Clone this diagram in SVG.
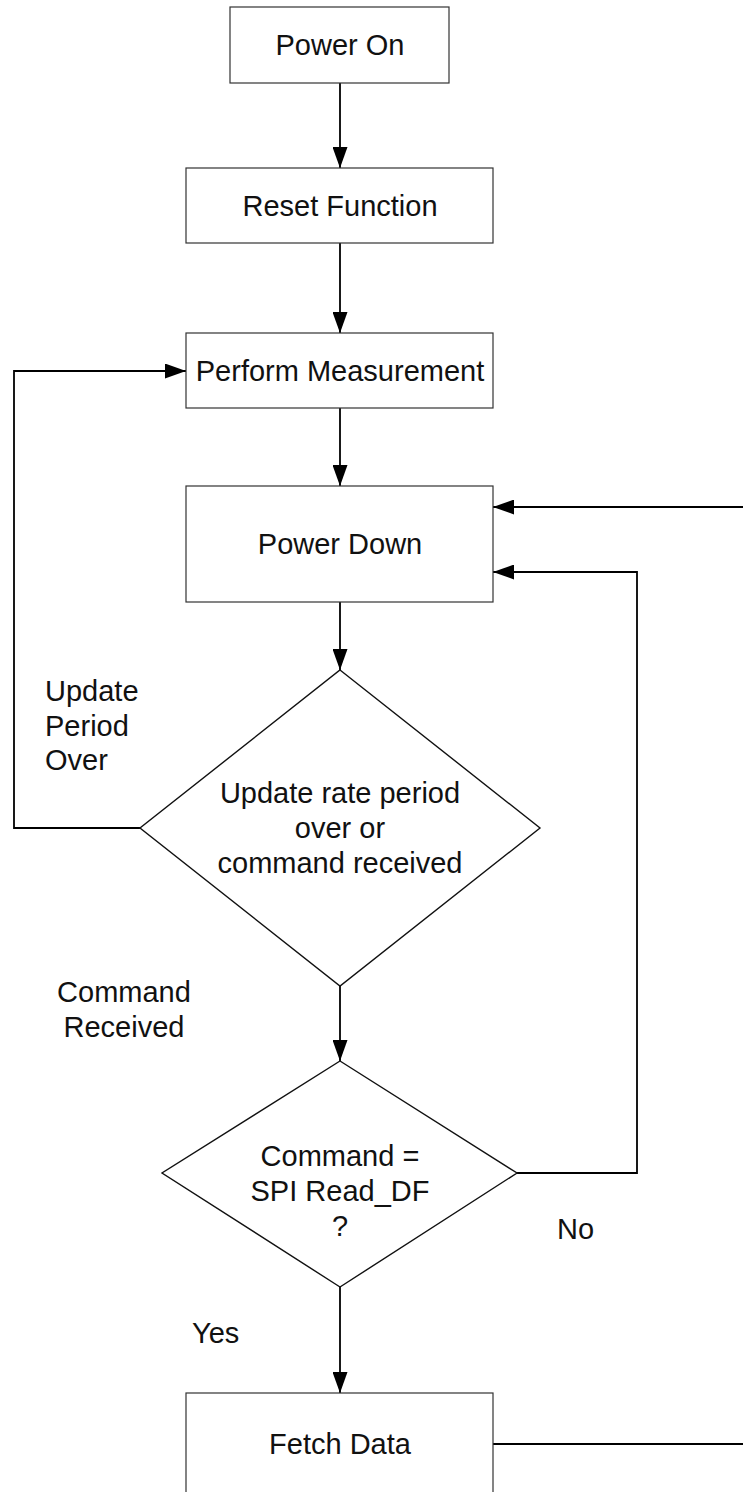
<svg xmlns="http://www.w3.org/2000/svg" width="743" height="1492" viewBox="0 0 743 1492">
  <style>
    .box { fill: #ffffff; stroke: #333333; stroke-width: 1.2; }
    .dia { fill: #ffffff; stroke: #111111; stroke-width: 1.4; }
    .conn { fill: none; stroke: #000000; stroke-width: 1.8; }
    text { font-family: "Liberation Sans", Arial, sans-serif; font-size: 29px; fill: #111111; }
    .c { text-anchor: middle; }
  </style>
  <defs>
    <marker id="arrow" markerWidth="22" markerHeight="15" refX="21" refY="7.5" orient="auto" markerUnits="userSpaceOnUse">
      <path d="M0,0 L21,7.5 L0,15 Z" fill="#000000"/>
    </marker>
  </defs>
  <rect width="743" height="1492" fill="#ffffff"/>

  <g id="connectors">
    <line class="conn" x1="340" y1="83" x2="340" y2="168" marker-end="url(#arrow)"/>
    <line class="conn" x1="340" y1="243" x2="340" y2="333" marker-end="url(#arrow)"/>
    <line class="conn" x1="340" y1="408" x2="340" y2="486" marker-end="url(#arrow)"/>
    <line class="conn" x1="340" y1="602" x2="340" y2="670" marker-end="url(#arrow)"/>
    <line class="conn" x1="340" y1="986" x2="340" y2="1061" marker-end="url(#arrow)"/>
    <line class="conn" x1="340" y1="1287" x2="340" y2="1393" marker-end="url(#arrow)"/>
    <polyline class="conn" points="140,828 14,828 14,371 186,371" marker-end="url(#arrow)"/>
    <polyline class="conn" points="517,1173 637,1173 637,572 493,572" marker-end="url(#arrow)"/>
    <line class="conn" x1="743" y1="507" x2="493" y2="507" marker-end="url(#arrow)"/>
    <line class="conn" x1="493" y1="1444" x2="743" y2="1444"/>
  </g>

  <g id="power-on">
    <rect class="box" x="230" y="7" width="219" height="76"/>
    <text class="c" x="340" y="55">Power On</text>
  </g>
  <g id="reset-function">
    <rect class="box" x="186" y="168" width="307" height="75"/>
    <text class="c" x="340" y="216">Reset Function</text>
  </g>
  <g id="perform-measurement">
    <rect class="box" x="186" y="333" width="307" height="75"/>
    <text class="c" x="340" y="381">Perform Measurement</text>
  </g>
  <g id="power-down">
    <rect class="box" x="186" y="486" width="307" height="116"/>
    <text class="c" x="340" y="554">Power Down</text>
  </g>
  <g id="decision-update">
    <polygon class="dia" points="340,670 540,828 340,986 140,828"/>
    <text class="c" x="340" y="803">Update rate period</text>
    <text class="c" x="340" y="838">over or</text>
    <text class="c" x="340" y="873">command received</text>
  </g>
  <g id="decision-command">
    <polygon class="dia" points="340,1061 517,1173 340,1287 162,1173"/>
    <text class="c" x="340" y="1166">Command =</text>
    <text class="c" x="340" y="1201">SPI Read_DF</text>
    <text class="c" x="340" y="1236">?</text>
  </g>
  <g id="fetch-data">
    <rect class="box" x="186" y="1393" width="307" height="110"/>
    <text class="c" x="340" y="1454">Fetch Data</text>
  </g>

  <g id="labels">
    <text x="45" y="701">Update</text>
    <text x="45" y="736">Period</text>
    <text x="45" y="770">Over</text>
    <text class="c" x="124" y="1002">Command</text>
    <text class="c" x="124" y="1037">Received</text>
    <text x="557" y="1239">No</text>
    <text x="192" y="1343">Yes</text>
  </g>
</svg>
